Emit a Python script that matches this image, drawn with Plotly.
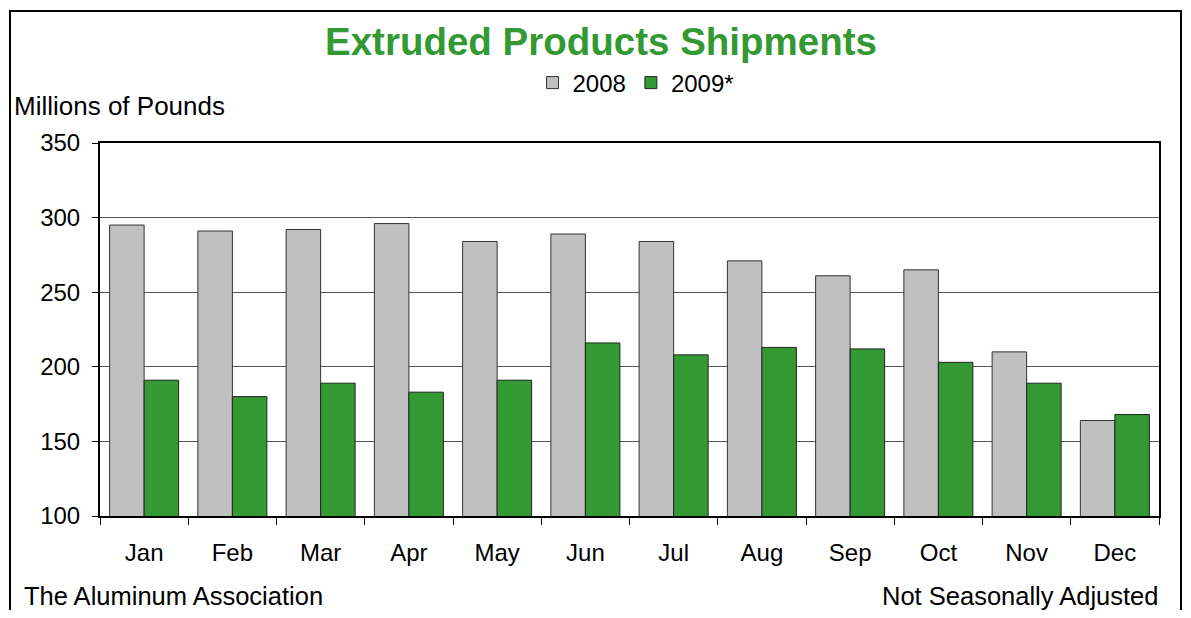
import plotly.graph_objects as go

months = ["Jan", "Feb", "Mar", "Apr", "May", "Jun", "Jul", "Aug", "Sep", "Oct", "Nov", "Dec"]
y2008 = [295, 291, 292, 296, 284, 289, 284, 271, 261, 265, 210, 164]
y2009 = [191, 180, 189, 183, 191, 216, 208, 213, 212, 203, 189, 168]
y_ticks = [100, 150, 200, 250, 300, 350]

FONT = "Liberation Sans, Arial, sans-serif"
GREEN = "#339933"
GRAY = "#C0C0C0"

fig = go.Figure()
fig.add_trace(go.Bar(x=months, y=y2008, name="2008",
                     marker=dict(color=GRAY, line=dict(color="#333333", width=1))))
fig.add_trace(go.Bar(x=months, y=y2009, name="2009*",
                     marker=dict(color=GREEN, line=dict(color="#222222", width=1))))

# page body margin offsets the figure by 8 px; size the figure to fit the window
OFF = 8
W, H = 1191 - 2 * OFF, 618 - 2 * OFF
# plot area in reference (screen) pixels
PL, PR, PT, PB = 100, 1159, 143, 516
pw, ph = PR - PL, PB - PT
L, T = PL - OFF, PT - OFF
R, B = W - (PR - OFF), H - (PB - OFF)

def px(x):
    return (x - PL) / pw

def py(y):
    return (PB - y) / ph

fig.update_layout(
    width=W, height=H,
    margin=dict(l=L, r=R, t=T, b=B, autoexpand=False),
    paper_bgcolor="white", plot_bgcolor="white",
    font=dict(family=FONT, size=24, color="black"),
    barmode="group", bargap=0.218, bargroupgap=0,
    title=dict(text="<b>Extruded Products Shipments</b>", x=(601 - OFF) / W, xanchor="center",
               y=1 - (42 - OFF) / H, yanchor="middle", xref="container", yref="container",
               font=dict(family=FONT, size=38.5, color=GREEN)),
    showlegend=True,
    legend=dict(orientation="h", x=px(636), xanchor="center", y=py(83), yanchor="middle",
                font=dict(family=FONT, size=24), itemwidth=30, tracegroupgap=0,
                bgcolor="rgba(0,0,0,0)"),
    xaxis=dict(type="category", showline=True, linecolor="black", linewidth=2, mirror=True,
               ticks="outside", tickson="boundaries", ticklen=7, tickcolor="black",
               showgrid=False, ticklabelstandoff=14,
               tickfont=dict(family=FONT, size=24)),
    yaxis=dict(range=[100, 350], tickvals=y_ticks, showline=True, linecolor="black",
               linewidth=2, mirror=True, ticks="outside", ticklen=6, tickcolor="black",
               showgrid=True, gridcolor="#555555", gridwidth=1, ticklabelstandoff=7,
               tickfont=dict(family=FONT, size=24), zeroline=False),
)

fig.add_annotation(text="Millions of Pounds", xref="paper", yref="paper",
                   x=px(12), y=py(106), xanchor="left", yanchor="middle",
                   showarrow=False, font=dict(family=FONT, size=26))
fig.add_annotation(text="The Aluminum Association", xref="paper", yref="paper",
                   x=px(22), y=py(596), xanchor="left", yanchor="middle",
                   showarrow=False, font=dict(family=FONT, size=25.5))
fig.add_annotation(text="Not Seasonally Adjusted", xref="paper", yref="paper",
                   x=px(1160), y=py(596), xanchor="right", yanchor="middle",
                   showarrow=False, font=dict(family=FONT, size=25.5))

fig.add_shape(type="rect", xref="paper", yref="paper",
              x0=px(OFF + 2), x1=px(1189 - OFF), y0=py(640), y1=py(OFF + 3),
              line=dict(color="black", width=2), fillcolor="rgba(0,0,0,0)", layer="below")

fig.write_html("out.html")
